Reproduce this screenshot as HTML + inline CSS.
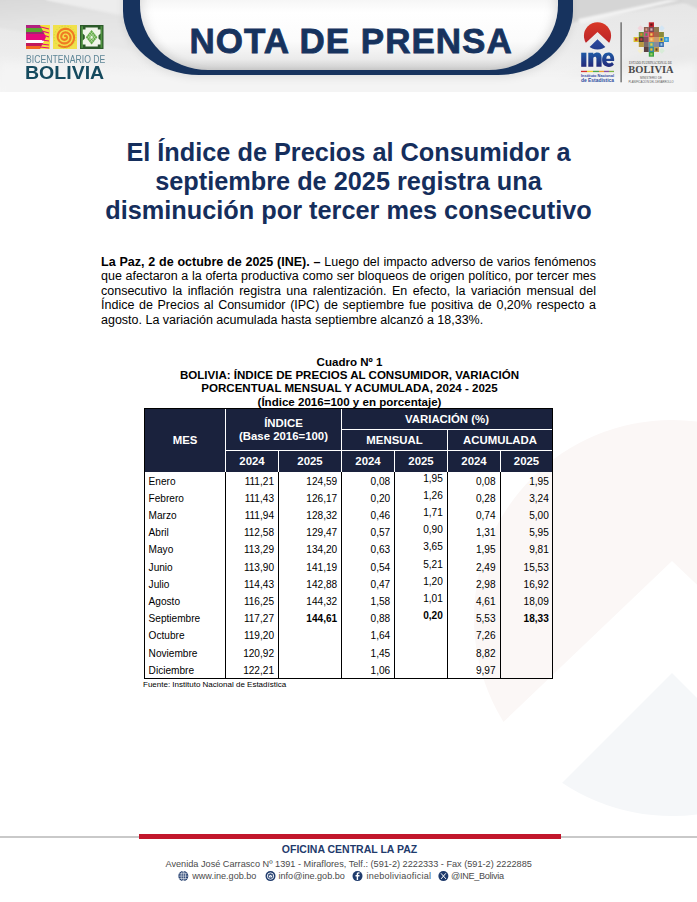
<!DOCTYPE html>
<html><head><meta charset="utf-8">
<style>
*{margin:0;padding:0;box-sizing:border-box}
html,body{width:697px;height:902px;overflow:hidden;background:#fff}
body{position:relative;font-family:"Liberation Sans",sans-serif;color:#000}
.abs{position:absolute}
#hdr{left:0;top:0;width:697px;height:92px;overflow:hidden;background:#e4e4e4}
#ribbon{left:123px;top:-40px;width:450px;height:114.5px;background:#17335e;border-radius:0 0 75px 76px / 0 0 64.5px 64.5px;box-shadow:0 3px 8px rgba(0,0,0,.08)}
#ribbon-in{left:140px;top:-40px;width:418px;height:110.3px;border-radius:0 0 69px 68px / 0 0 65px 65px;
 background:linear-gradient(180deg,#f6f6f6 36%,#ffffff 48%,#fbfbfb 74%,#ebebeb 90%,#d6d6d6 100%);box-shadow:inset 0 -3px 10px rgba(0,0,0,.07), inset 10px 0 12px -6px rgba(0,0,0,.07), inset -10px 0 12px -6px rgba(0,0,0,.07)}
#nota{left:189.5px;top:21px;width:400px;text-align:left;font-weight:bold;font-size:35px;line-height:40px;color:#17335e;letter-spacing:1px;white-space:nowrap;-webkit-text-stroke:0.8px #17335e}
.title{left:0;width:697px;text-align:center;font-weight:bold;font-size:25.3px;color:#152e5c;line-height:29px}
.para{left:101px;width:495px;font-size:12.5px;line-height:14.4px;text-align:justify;text-align-last:left}
.cap{left:1px;width:697px;text-align:center;font-weight:bold;font-size:11.56px;line-height:13.4px}
table{position:absolute;left:144px;top:408px;border-collapse:collapse;table-layout:fixed}
.wl{background:#fff}.bl{background:#000}
.th{text-align:center;color:#fff;font-weight:bold;font-size:11.4px;line-height:12px;white-space:nowrap}
.td{position:absolute;font-size:10.1px;line-height:12px;white-space:nowrap}
.tr{text-align:right}
.fi{top:871px;font-size:9.1px;line-height:11px;color:#4a4a4a;white-space:nowrap}
</style></head><body>
<div id="hdr" class="abs">
  <svg class="abs" style="left:0;top:0" width="697" height="92" viewBox="0 0 697 92">
    <defs><filter id="bl4" x="-20%" y="-50%" width="140%" height="200%"><feGaussianBlur stdDeviation="4"/></filter>
    <filter id="bl2" x="-20%" y="-50%" width="140%" height="200%"><feGaussianBlur stdDeviation="2.5"/></filter></defs>
    <defs><linearGradient id="bandg" x1="0" y1="0" x2="0" y2="1"><stop offset="0" stop-color="#e6e6e6"/><stop offset="0.55" stop-color="#ececec"/><stop offset="1" stop-color="#f6f6f6"/></linearGradient></defs>
    <rect x="0" y="0" width="697" height="92" fill="url(#bandg)"/>
    <defs>
      <linearGradient id="lband" x1="0" y1="0" x2="0.25" y2="1"><stop offset="0" stop-color="#d6d6d6"/><stop offset="0.5" stop-color="#e2e2e2"/><stop offset="1" stop-color="#e8e8e8"/></linearGradient>
      <filter id="bl1" x="-20%" y="-50%" width="140%" height="200%"><feGaussianBlur stdDeviation="1.2"/></filter>
    </defs>
    <polygon points="-5,-5 47,-5 47,0 130,18 130,50 -5,27" fill="url(#lband)" filter="url(#bl1)"/>
    <polygon points="40,-5 140,-5 140,18 47,0" fill="#ededed" filter="url(#bl1)"/>
    <polygon points="560,-5 700,-5 700,0 578,21 560,26" fill="#d5d5d5" filter="url(#bl1)"/>
    <polygon points="578,19 668,0 680,0 581,24" fill="#f2f2f2" filter="url(#bl1)"/>
    <polygon points="680,0 700,-5 700,10 683,2" fill="#d8d8d8" filter="url(#bl1)"/>
    <polygon points="560,95 710,95 710,30 560,80" fill="#e9e9e9" filter="url(#bl4)"/>
    <polygon points="0,62 140,75 600,75 697,62 697,100 0,100" fill="#f4f4f4" filter="url(#bl4)"/>
  </svg>
  <div id="ribbon" class="abs"></div>
  <div id="ribbon-in" class="abs"></div>
  <div id="nota" class="abs">NOTA DE PRENSA</div>
  <svg class="abs" style="left:0;top:0" width="697" height="92" viewBox="0 0 697 92">
    <!-- square 1 -->
    <g>
      <rect x="26" y="25" width="24" height="24" fill="#e5097f"/>
      <rect x="26" y="25" width="24" height="3" fill="#b2207f"/>
      <rect x="26" y="28" width="24" height="4" fill="#5aa531"/>
      <rect x="26" y="32" width="24" height="2" fill="#9c2a6e"/>
      <rect x="26" y="34" width="24" height="6" fill="#e5097f"/>
      <rect x="26" y="40" width="18" height="3" fill="#ffffff"/>
      <rect x="26" y="43" width="24" height="3" fill="#c2185b"/>
      <rect x="26" y="46" width="24" height="3" fill="#f26a21"/>
      <polygon points="40,25 50,25 50,49 40,49 46,37" fill="#f3e03b"/>
      <path d="M41 27 L49 29 M42 31 L49 33 M43 35 L49 37 M42 40 L49 41 M41 44 L49 45 M40 47 L49 48" stroke="#e5097f" stroke-width="1.2"/>
    </g>
    <!-- square 2 -->
    <g>
      <rect x="53" y="25" width="24" height="24" fill="#f1e14b"/>
      <path d="M65.00,36.00 L65.09,35.96 L65.18,35.92 L65.28,35.89 L65.38,35.88 L65.49,35.87 L65.60,35.87 L65.72,35.89 L65.83,35.91 L65.95,35.95 L66.07,36.00 L66.18,36.06 L66.29,36.13 L66.40,36.22 L66.50,36.32 L66.60,36.42 L66.68,36.55 L66.76,36.68 L66.83,36.82 L66.88,36.96 L66.93,37.12 L66.96,37.28 L66.97,37.45 L66.97,37.63 L66.96,37.80 L66.93,37.98 L66.88,38.16 L66.82,38.34 L66.74,38.51 L66.64,38.68 L66.53,38.85 L66.40,39.00 L66.25,39.15 L66.09,39.29 L65.92,39.41 L65.73,39.52 L65.53,39.62 L65.32,39.70 L65.10,39.77 L64.88,39.81 L64.64,39.84 L64.40,39.84 L64.16,39.83 L63.91,39.80 L63.67,39.74 L63.43,39.66 L63.19,39.56 L62.95,39.44 L62.73,39.30 L62.51,39.14 L62.31,38.95 L62.12,38.75 L61.94,38.53 L61.79,38.30 L61.65,38.04 L61.53,37.78 L61.43,37.50 L61.36,37.21 L61.30,36.91 L61.28,36.60 L61.28,36.29 L61.30,35.98 L61.35,35.66 L61.43,35.35 L61.54,35.04 L61.67,34.74 L61.83,34.45 L62.02,34.16 L62.23,33.90 L62.46,33.64 L62.72,33.41 L63.00,33.19 L63.30,33.00 L63.62,32.83 L63.95,32.68 L64.30,32.57 L64.66,32.48 L65.03,32.42 L65.41,32.39 L65.79,32.39 L66.17,32.43 L66.56,32.50 L66.94,32.59 L67.31,32.73 L67.68,32.89 L68.04,33.09 L68.38,33.31 L68.70,33.57 L69.00,33.85 L69.29,34.17 L69.54,34.50 L69.77,34.86 L69.98,35.24 L70.15,35.64 L70.29,36.06 L70.39,36.49 L70.46,36.93 L70.50,37.38 L70.49,37.83 L70.45,38.29 L70.37,38.75 L70.26,39.20 L70.10,39.64 L69.91,40.07 L69.68,40.49 L69.41,40.89 L69.11,41.27 L68.78,41.63 L68.42,41.96 L68.02,42.26 L67.60,42.53 L67.16,42.77 L66.69,42.97 L66.21,43.14 L65.71,43.26 L65.20,43.34 L64.68,43.39 L64.15,43.38 L63.62,43.34 L63.10,43.25 L62.58,43.12 L62.07,42.94 L61.57,42.72 L61.08,42.46 L60.62,42.16 L60.18,41.82 L59.77,41.44 L59.39,41.02 L59.04,40.58 L58.72,40.10 L58.45,39.59 L58.22,39.06 L58.02,38.51 L57.88,37.95 L57.78,37.36 L57.73,36.77 L57.72,36.17 L57.77,35.57 L57.86,34.98 L58.01,34.38 L58.20,33.80 L58.45,33.24 L58.74,32.69 L59.08,32.16 L59.46,31.66 L59.88,31.19 L60.34,30.76 L60.84,30.36 L61.38,30.00 L61.94,29.68 L62.54,29.42 L63.15,29.19 L63.79,29.02 L64.44,28.90 L65.10,28.84 L65.77,28.83 L66.44,28.87 L67.11,28.97 L67.78,29.13 L68.43,29.34 L69.07,29.60 L69.68,29.92 L70.27,30.29 L70.83,30.71 L71.36,31.17 L71.85,31.68 L72.30,32.24 L72.71,32.83 L73.07,33.45 L73.37,34.10 L73.63,34.79 L73.82,35.49 L73.96,36.21 L74.04,36.94 L74.07,37.68 L74.03,38.43 L73.92,39.17 L73.76,39.91 L73.54,40.63 L73.25,41.34 L72.91,42.02 L72.51,42.68 L72.06,43.30 L71.55,43.89 L71.00,44.44 L70.40,44.94 L69.75,45.40 L69.07,45.80 L68.36,46.15 L67.61,46.43 L66.84,46.66 L66.05,46.83 L65.25,46.92 L64.44,46.96 L63.62,46.93 L62.80,46.83 L62.00,46.66 L61.20,46.42 L60.42,46.12 L59.67,45.76 L58.95,45.33" fill="none" stroke="#f07a24" stroke-width="2.1" stroke-linecap="round"/>
      <circle cx="65" cy="37" r="11" fill="none" stroke="#b9cf3c" stroke-width="0.7" stroke-dasharray="1.2 1.8"/>
    </g>
    <!-- square 3 -->
    <g>
      <rect x="80" y="25" width="23.5" height="24" fill="#2c5a2a"/>
      <rect x="81.2" y="26.2" width="1.8" height="21.6" fill="#4f9240"/>
      <rect x="100.5" y="26.2" width="1.8" height="21.6" fill="#4f9240"/>
      <polygon points="85.5,27.5 97.8,27.5 97.8,29.5 100.5,29.5 100.5,33.5 98.5,35.5 98.5,38.5 100.5,40.5 100.5,44.5 97.8,44.5 97.8,46.5 85.5,46.5 85.5,44.5 82.8,44.5 82.8,40.5 84.8,38.5 84.8,35.5 82.8,33.5 82.8,29.5 85.5,29.5" fill="#f1f5ea"/>
      <polygon points="91.6,30 97.4,37.2 91.6,44.4 85.8,37.2" fill="#62aa48"/>
      <path d="M88.7,33.6 L94.5,40.8 M94.5,33.6 L88.7,40.8 M90.1,31.8 L95.9,39 M93.1,31.8 L87.3,39 M87.3,35.4 L93.1,42.6 M95.9,35.4 L90.1,42.6" stroke="#d8ecc8" stroke-width="0.5"/>
      <polygon points="91.6,35.4 93,37.2 91.6,39 90.2,37.2" fill="#f1f5ea"/>
    </g>
    <!-- INE logo -->
    <defs>
      <linearGradient id="gred" x1="0" y1="0" x2="0" y2="1"><stop offset="0" stop-color="#dc3a26"/><stop offset="1" stop-color="#b3202a"/></linearGradient>
      <linearGradient id="gblue" x1="0" y1="0" x2="0" y2="1"><stop offset="0" stop-color="#2b4aa0"/><stop offset="1" stop-color="#1c2f78"/></linearGradient>
      <clipPath id="cc"><circle cx="597.5" cy="35.8" r="13.6"/></clipPath>
    </defs>
    <g clip-path="url(#cc)">
      <polygon points="580,20 615,20 615,48.3 597.5,32 580,48.3" fill="url(#gred)"/>
      <polygon points="597.5,39.2 619,60.5 576,60.5" fill="url(#gblue)"/>
    </g>
    <defs><linearGradient id="gine" x1="0" y1="0" x2="0" y2="1"><stop offset="0" stop-color="#1f5aa5"/><stop offset="1" stop-color="#23287a"/></linearGradient></defs>
    <g fill="url(#gine)">
      <rect x="581.2" y="52.7" width="5.2" height="14.1"/>
      <path d="M588.3,66.8 V52.7 H593.3 V54.3 C594.3,53.2 595.8,52.6 597.3,52.6 C600,52.6 601.6,54.4 601.6,57.5 V66.8 H596.4 V58.6 C596.4,57.4 595.8,56.8 594.9,56.8 C594,56.8 593.3,57.5 593.3,58.7 V66.8 Z"/>
      <path fill-rule="evenodd" d="M614.1,60.9 H606.3 C606.6,62.6 608.1,63.3 609.4,63.3 C610.6,63.3 611.5,62.8 612,62 L613.9,64.6 C612.8,66.1 611.1,66.9 608.9,66.9 C604.7,66.9 602.1,64.1 602.1,59.8 C602.1,55.4 604.8,52.6 608.3,52.6 C612,52.6 614.2,55.3 614.2,59.6 Z M606.3,58.7 H610.5 C610.4,56.6 609.6,55.4 608.4,55.4 C607.2,55.4 606.4,56.6 606.3,58.7 Z"/>
    </g>
    <rect x="581" y="70.8" width="6" height="1.3" fill="#d6312b"/>
    <rect x="587" y="70.8" width="6" height="1.3" fill="#f2d22e"/>
    <rect x="593" y="70.8" width="6" height="1.3" fill="#4ca64c"/>
    <rect x="599" y="70.8" width="5" height="1.3" fill="#f0a030"/>
    <rect x="604" y="70.8" width="5" height="1.3" fill="#8e4fa0"/>
    <rect x="609" y="70.8" width="5" height="1.3" fill="#7cb342"/>
    <text x="581" y="77.2" font-family="Liberation Sans" font-weight="bold" font-size="3.8" fill="#2b4aa0" textLength="33" lengthAdjust="spacingAndGlyphs">Instituto Nacional</text>
    <text x="581" y="81.8" font-family="Liberation Sans" font-weight="bold" font-size="4.8" fill="#2b4aa0" textLength="33" lengthAdjust="spacingAndGlyphs">de Estadística</text>
    <rect x="620.5" y="22.3" width="1.2" height="60" fill="#555"/>
    <g>
      <rect x="648.8" y="22.3" width="5.2" height="4.7" fill="#c4262e"/>
      <rect x="650.3" y="23.6" width="2.2" height="2.1" fill="#5a1a1a"/>
      <rect x="643.9" y="27" width="4.9" height="5.0" fill="#8b5e4f"/>
      <rect x="645.4" y="28.3" width="1.9" height="2.4" fill="#e0a090"/>
      <rect x="648.8" y="27" width="5.2" height="5.0" fill="#7a4a55"/>
      <rect x="650.3" y="28.3" width="2.2" height="2.4" fill="#d8b0b0"/>
      <rect x="654" y="27" width="5.0" height="5.0" fill="#8f7a50"/>
      <rect x="638.8" y="32" width="5.1" height="5.0" fill="#6a8a3a"/>
      <rect x="640.3" y="33.3" width="2.1" height="2.4" fill="#e88030"/>
      <rect x="643.9" y="32" width="4.9" height="5.0" fill="#c85080"/>
      <rect x="645.4" y="33.3" width="1.9" height="2.4" fill="#40a050"/>
      <rect x="648.8" y="32" width="5.2" height="5.0" fill="#c8503a"/>
      <rect x="650.3" y="33.3" width="2.2" height="2.4" fill="#f0d060"/>
      <rect x="654" y="32" width="5.0" height="5.0" fill="#a86a4a"/>
      <rect x="659" y="32" width="4.9" height="5.0" fill="#8a8a3a"/>
      <rect x="633.6" y="37" width="5.2" height="5.0" fill="#d8c030"/>
      <rect x="635.1" y="38.3" width="2.2" height="2.4" fill="#c03040"/>
      <rect x="638.8" y="37" width="5.1" height="5.0" fill="#4a3a3a"/>
      <rect x="640.3" y="38.3" width="2.1" height="2.4" fill="#c04040"/>
      <rect x="643.9" y="37" width="4.9" height="5.0" fill="#8a4a5a"/>
      <rect x="648.8" y="37" width="5.2" height="5.0" fill="#e8a050"/>
      <rect x="650.3" y="38.3" width="2.2" height="2.4" fill="#f8d080"/>
      <rect x="654" y="37" width="5.0" height="5.0" fill="#c89a70"/>
      <rect x="659" y="37" width="4.9" height="5.0" fill="#d8c040"/>
      <rect x="660.5" y="38.3" width="1.9" height="2.4" fill="#3050a0"/>
      <rect x="663.9" y="37" width="5.0" height="5.0" fill="#3a9ad8"/>
      <rect x="665.4" y="38.3" width="2.0" height="2.4" fill="#80d0f0"/>
      <rect x="638.8" y="42" width="5.1" height="5.0" fill="#b89a40"/>
      <rect x="643.9" y="42" width="4.9" height="5.0" fill="#7a6a6a"/>
      <rect x="648.8" y="42" width="5.2" height="5.0" fill="#60a0a0"/>
      <rect x="650.3" y="43.3" width="2.2" height="2.4" fill="#e8d040"/>
      <rect x="654" y="42" width="5.0" height="5.0" fill="#8a8a9a"/>
      <rect x="659" y="42" width="4.9" height="5.0" fill="#3a6ab0"/>
      <rect x="660.5" y="43.3" width="1.9" height="2.4" fill="#a0d0e0"/>
      <rect x="643.9" y="47" width="4.9" height="5.0" fill="#5a4040"/>
      <rect x="648.8" y="47" width="5.2" height="5.0" fill="#3a8aa0"/>
      <rect x="650.3" y="48.3" width="2.2" height="2.4" fill="#f0c030"/>
      <rect x="654" y="47" width="5.0" height="5.0" fill="#c0a050"/>
      <rect x="655.5" y="48.3" width="2.0" height="2.4" fill="#604030"/>
      <rect x="648.8" y="52" width="5.2" height="4.7" fill="#3aa040"/>
      <rect x="650.3" y="53.3" width="2.2" height="2.1" fill="#a0d060"/>
      <polygon points="640.5,25.3 643.5,28.3 640.5,31.3 637.5,28.3" fill="#f3d3da"/>
      <polygon points="661.8,25.3 664.8,28.3 661.8,31.3 658.8,28.3" fill="#d3e6f4"/>
      <polygon points="640.5,47.7 643.5,50.7 640.5,53.7 637.5,50.7" fill="#f5efcc"/>
      <polygon points="661.8,47.7 664.8,50.7 661.8,53.7 658.8,50.7" fill="#d8ecd8"/>
    </g>
    <text x="629" y="63.8" font-family="Liberation Serif" font-size="3.2" fill="#444" textLength="43" lengthAdjust="spacingAndGlyphs">ESTADO PLURINACIONAL DE</text>
    <text x="628.3" y="72.7" font-family="Liberation Serif" font-weight="bold" font-size="10" fill="#4a4a4a" textLength="45.3" lengthAdjust="spacingAndGlyphs">BOLIVIA</text>
    <text x="640" y="79.4" font-family="Liberation Sans" font-size="2.6" fill="#555" textLength="22" lengthAdjust="spacingAndGlyphs">MINISTERIO DE</text>
    <text x="628.5" y="82.7" font-family="Liberation Sans" font-size="2.6" fill="#555" textLength="45" lengthAdjust="spacingAndGlyphs">PLANIFICACIÓN DEL DESARROLLO</text>
  </svg>
  <div class="abs" style="left:25.5px;top:53.7px;font-size:10.3px;line-height:12px;color:#5d8596;white-space:nowrap;transform:scaleX(0.84);transform-origin:0 0">BICENTENARIO DE</div>
  <div class="abs" style="left:25px;top:62.9px;font-size:18.7px;line-height:20px;font-weight:bold;color:#154a5e;white-space:nowrap;transform:scaleX(1.045);transform-origin:0 0">BOLIVIA</div>
</div>

<svg class="abs" style="left:0;top:400px" width="697" height="440" viewBox="0 400 697 440">
  <defs><clipPath id="wmc"><circle cx="672" cy="618" r="198"/></clipPath></defs>
  <g clip-path="url(#wmc)">
    <polygon points="400,400 900,400 900,778 672,561 472,752 400,752" fill="#fbf7f6"/>
    <polygon points="672,673 900,901 444,901" fill="#f5f7f9"/>
  </g>
</svg>
<div class="abs title" style="top:137.6px">El Índice de Precios al Consumidor a<br>septiembre de 2025 registra una<br>disminución por tercer mes consecutivo</div>

<div class="abs para" style="top:255px"><b>La Paz, 2 de octubre de 2025 (INE). –</b> Luego del impacto adverso de varios fenómenos que afectaron a la oferta productiva como ser bloqueos de origen político, por tercer mes consecutivo la inflación registra una ralentización. En efecto, la variación mensual del Índice de Precios al Consumidor (IPC) de septiembre fue positiva de 0,20% respecto a agosto. La variación acumulada hasta septiembre alcanzó a 18,33%.</div>

<div class="abs cap" style="top:355.5px">Cuadro Nº 1<br>BOLIVIA: ÍNDICE DE PRECIOS AL CONSUMIDOR, VARIACIÓN<br>PORCENTUAL MENSUAL Y ACUMULADA, 2024 - 2025<br>(Índice 2016=100 y en porcentaje)</div>

<div id="tbl">
<div class="abs" style="left:144px;top:408px;width:409px;height:271px;border:1px solid #000"></div>
<div class="abs" style="left:145px;top:409px;width:407px;height:63px;background:#1a223d"></div>
<div class="abs wl" style="left:225px;top:409px;width:1px;height:63px"></div>
<div class="abs wl" style="left:341px;top:409px;width:1px;height:63px"></div>
<div class="abs wl" style="left:341px;top:429px;width:211px;height:1px"></div>
<div class="abs wl" style="left:225px;top:450px;width:327px;height:1px"></div>
<div class="abs wl" style="left:447px;top:429px;width:1px;height:43px"></div>
<div class="abs wl" style="left:278px;top:450px;width:1px;height:22px"></div>
<div class="abs wl" style="left:394px;top:450px;width:1px;height:22px"></div>
<div class="abs wl" style="left:500px;top:450px;width:1px;height:22px"></div>
<div class="abs bl" style="left:225px;top:472px;width:1px;height:207px"></div>
<div class="abs bl" style="left:278px;top:472px;width:1px;height:207px"></div>
<div class="abs bl" style="left:341px;top:472px;width:1px;height:207px"></div>
<div class="abs bl" style="left:394px;top:472px;width:1px;height:207px"></div>
<div class="abs bl" style="left:447px;top:472px;width:1px;height:207px"></div>
<div class="abs bl" style="left:500px;top:472px;width:1px;height:207px"></div>
<div class="abs th" style="left:145px;width:80px;top:434.00px">MES</div>
<div class="abs th" style="left:226px;width:115px;top:417.00px">ÍNDICE</div>
<div class="abs th" style="left:226px;width:115px;top:430px">(Base 2016=100)</div>
<div class="abs th" style="left:226px;width:52px;top:455.00px">2024</div>
<div class="abs th" style="left:279px;width:62px;top:455.00px">2025</div>
<div class="abs th" style="left:342px;width:210px;top:413.00px">VARIACIÓN (%)</div>
<div class="abs th" style="left:342px;width:105px;top:434.00px">MENSUAL</div>
<div class="abs th" style="left:448px;width:104px;top:434.00px">ACUMULADA</div>
<div class="abs th" style="left:342px;width:52px;top:455.00px">2024</div>
<div class="abs th" style="left:395px;width:52px;top:455.00px">2025</div>
<div class="abs th" style="left:448px;width:52px;top:455.00px">2024</div>
<div class="abs th" style="left:501px;width:51px;top:455.00px">2025</div>
<div class="abs" style="left:143px;top:680px;font-size:8px;line-height:9px">Fuente: Instituto Nacional de Estadística</div>
<div class="td" style="left:148.6px;top:476px">Enero</div>
<div class="td tr" style="right:423.00px;top:476px">111,21</div>
<div class="td tr" style="right:359.80px;top:476px">124,59</div>
<div class="td tr" style="right:306.80px;top:476px">0,08</div>
<div class="td tr" style="right:254.20px;top:473px">1,95</div>
<div class="td tr" style="right:201.40px;top:476px">0,08</div>
<div class="td tr" style="right:148.20px;top:476px">1,95</div>
<div class="td" style="left:148.6px;top:493px">Febrero</div>
<div class="td tr" style="right:423.00px;top:493px">111,43</div>
<div class="td tr" style="right:359.80px;top:493px">126,17</div>
<div class="td tr" style="right:306.80px;top:493px">0,20</div>
<div class="td tr" style="right:254.20px;top:490px">1,26</div>
<div class="td tr" style="right:201.40px;top:493px">0,28</div>
<div class="td tr" style="right:148.20px;top:493px">3,24</div>
<div class="td" style="left:148.6px;top:510px">Marzo</div>
<div class="td tr" style="right:423.00px;top:510px">111,94</div>
<div class="td tr" style="right:359.80px;top:510px">128,32</div>
<div class="td tr" style="right:306.80px;top:510px">0,46</div>
<div class="td tr" style="right:254.20px;top:507px">1,71</div>
<div class="td tr" style="right:201.40px;top:510px">0,74</div>
<div class="td tr" style="right:148.20px;top:510px">5,00</div>
<div class="td" style="left:148.6px;top:527px">Abril</div>
<div class="td tr" style="right:423.00px;top:527px">112,58</div>
<div class="td tr" style="right:359.80px;top:527px">129,47</div>
<div class="td tr" style="right:306.80px;top:527px">0,57</div>
<div class="td tr" style="right:254.20px;top:524px">0,90</div>
<div class="td tr" style="right:201.40px;top:527px">1,31</div>
<div class="td tr" style="right:148.20px;top:527px">5,95</div>
<div class="td" style="left:148.6px;top:544px">Mayo</div>
<div class="td tr" style="right:423.00px;top:544px">113,29</div>
<div class="td tr" style="right:359.80px;top:544px">134,20</div>
<div class="td tr" style="right:306.80px;top:544px">0,63</div>
<div class="td tr" style="right:254.20px;top:541px">3,65</div>
<div class="td tr" style="right:201.40px;top:544px">1,95</div>
<div class="td tr" style="right:148.20px;top:544px">9,81</div>
<div class="td" style="left:148.6px;top:562px">Junio</div>
<div class="td tr" style="right:423.00px;top:562px">113,90</div>
<div class="td tr" style="right:359.80px;top:562px">141,19</div>
<div class="td tr" style="right:306.80px;top:562px">0,54</div>
<div class="td tr" style="right:254.20px;top:559px">5,21</div>
<div class="td tr" style="right:201.40px;top:562px">2,49</div>
<div class="td tr" style="right:148.20px;top:562px">15,53</div>
<div class="td" style="left:148.6px;top:579px">Julio</div>
<div class="td tr" style="right:423.00px;top:579px">114,43</div>
<div class="td tr" style="right:359.80px;top:579px">142,88</div>
<div class="td tr" style="right:306.80px;top:579px">0,47</div>
<div class="td tr" style="right:254.20px;top:576px">1,20</div>
<div class="td tr" style="right:201.40px;top:579px">2,98</div>
<div class="td tr" style="right:148.20px;top:579px">16,92</div>
<div class="td" style="left:148.6px;top:596px">Agosto</div>
<div class="td tr" style="right:423.00px;top:596px">116,25</div>
<div class="td tr" style="right:359.80px;top:596px">144,32</div>
<div class="td tr" style="right:306.80px;top:596px">1,58</div>
<div class="td tr" style="right:254.20px;top:593px">1,01</div>
<div class="td tr" style="right:201.40px;top:596px">4,61</div>
<div class="td tr" style="right:148.20px;top:596px">18,09</div>
<div class="td" style="left:148.6px;top:613px">Septiembre</div>
<div class="td tr" style="right:423.00px;top:613px">117,27</div>
<div class="td tr" style="right:359.80px;top:613px"><b>144,61</b></div>
<div class="td tr" style="right:306.80px;top:613px">0,88</div>
<div class="td tr" style="right:254.20px;top:610px"><b>0,20</b></div>
<div class="td tr" style="right:201.40px;top:613px">5,53</div>
<div class="td tr" style="right:148.20px;top:613px"><b>18,33</b></div>
<div class="td" style="left:148.6px;top:630px">Octubre</div>
<div class="td tr" style="right:423.00px;top:630px">119,20</div>
<div class="td tr" style="right:306.80px;top:630px">1,64</div>
<div class="td tr" style="right:201.40px;top:630px">7,26</div>
<div class="td" style="left:148.6px;top:648px">Noviembre</div>
<div class="td tr" style="right:423.00px;top:648px">120,92</div>
<div class="td tr" style="right:306.80px;top:648px">1,45</div>
<div class="td tr" style="right:201.40px;top:648px">8,82</div>
<div class="td" style="left:148.6px;top:665px">Diciembre</div>
<div class="td tr" style="right:423.00px;top:665px">122,21</div>
<div class="td tr" style="right:306.80px;top:665px">1,06</div>
<div class="td tr" style="right:201.40px;top:665px">9,97</div>

</div>

<div id="ftr">
  <div class="abs" style="left:0;top:836px;width:697px;height:1.5px;background:#c9c9c9"></div>
  <div class="abs" style="left:138.7px;top:834px;width:422.4px;height:5px;background:#c2172c"></div>
  <div class="abs" style="left:0;top:843.3px;width:697px;text-align:center;font-weight:bold;font-size:10.5px;line-height:12px;color:#1f3b6c;white-space:nowrap;text-indent:2px">OFICINA CENTRAL LA PAZ</div>
  <div class="abs" style="left:165.5px;top:859.3px;font-size:9.17px;line-height:11px;color:#4a4a4a;white-space:nowrap">Avenida José Carrasco Nº 1391 - Miraflores, Telf.: (591-2) 2222333 - Fax (591-2) 2222885</div>
  <svg class="abs" style="left:0;top:868px" width="697" height="18" viewBox="0 868 697 18">
    <g>
      <circle cx="183.3" cy="876.1" r="5" fill="#1f3b6c"/>
      <g stroke="#ffffff" stroke-width="0.6" fill="none">
        <ellipse cx="183.3" cy="876.1" rx="2.2" ry="4.6"/>
        <line x1="183.3" y1="871.3" x2="183.3" y2="880.9"/>
        <line x1="178.5" y1="876.1" x2="188.1" y2="876.1"/>
        <line x1="179.2" y1="873.8" x2="187.4" y2="873.8"/>
        <line x1="179.2" y1="878.4" x2="187.4" y2="878.4"/>
      </g>
    </g>
    <g>
      <circle cx="270.5" cy="876.1" r="5" fill="#1f3b6c"/>
      <circle cx="270.5" cy="876.1" r="3.2" fill="none" stroke="#fff" stroke-width="0.9"/>
      <rect x="268.8" y="874.9" width="3.4" height="2.5" fill="#fff"/>
      <path d="M268.8,874.9 L270.5,876.3 L272.2,874.9" stroke="#1f3b6c" stroke-width="0.5" fill="none"/>
    </g>
    <g>
      <circle cx="357.5" cy="876.1" r="5" fill="#1f3b6c"/>
      <path d="M358.1,879.9 V876.5 H359.4 L359.6,875.1 H358.1 V874.3 C358.1,873.9 358.3,873.6 358.8,873.6 H359.6 V872.4 C359.4,872.4 359,872.3 358.5,872.3 C357.4,872.3 356.7,873 356.7,874.2 V875.1 H355.5 V876.5 H356.7 V879.9 Z" fill="#fff"/>
    </g>
    <g>
      <circle cx="443.4" cy="876.1" r="5" fill="#1f3b6c"/>
      <path d="M441,873.3 L445.9,878.9 M445.8,873.3 L441.1,878.9" stroke="#fff" stroke-width="1"/>
    </g>
  </svg>
  <div class="abs fi" style="left:192.2px">www.ine.gob.bo</div>
  <div class="abs fi" style="left:278.5px">info@ine.gob.bo</div>
  <div class="abs fi" style="left:366.6px;letter-spacing:0.2px">ineboliviaoficial</div>
  <div class="abs fi" style="left:451px;letter-spacing:-0.3px">@INE_Bolivia</div>
</div>
</body></html>
